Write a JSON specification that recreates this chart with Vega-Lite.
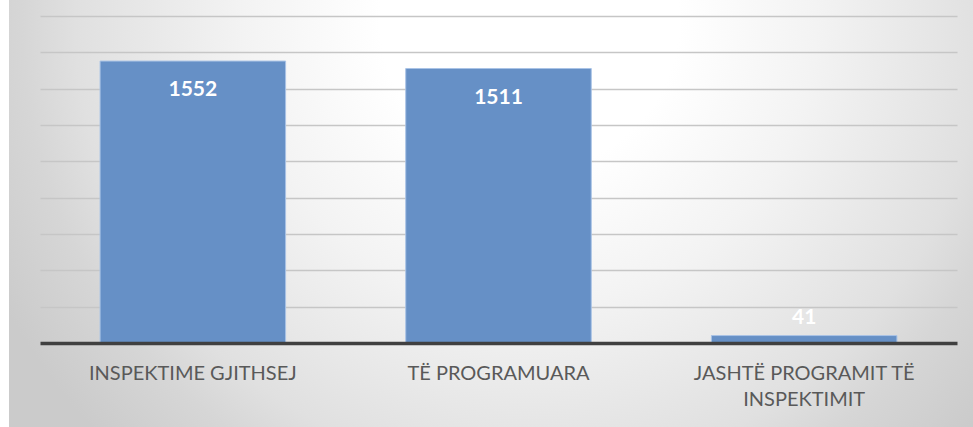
{
  "$schema": "https://vega.github.io/schema/vega-lite/v6.json",
  "width": 964,
  "height": 427,
  "autosize": {"type": "none"},
  "padding": {"left": 9, "top": 0, "right": 0, "bottom": 0},
  "background": "white",
  "view": {
    "stroke": null,
    "fill": {
      "gradient": "radial",
      "x1": 0.54, "y1": 0.3, "r1": 0,
      "x2": 0.54, "y2": 0.3, "r2": 0.62,
      "stops": [
        {"offset": 0, "color": "#ffffff"},
        {"offset": 0.25, "color": "#ffffff"},
        {"offset": 0.48, "color": "#f3f3f3"},
        {"offset": 0.76, "color": "#e0e0e0"},
        {"offset": 0.85, "color": "#d6d6d6"},
        {"offset": 1, "color": "#cbcbcb"}
      ]
    }
  },
  "config": {
    "font": "Lato"
  },
  "data": {
    "values": [
      {"category": "INSPEKTIME GJITHSEJ", "value": 1552},
      {"category": "TË PROGRAMUARA", "value": 1511},
      {"category": "JASHTË PROGRAMIT TË INSPEKTIMIT", "value": 41}
    ]
  },
  "encoding": {
    "x": {
      "field": "category",
      "type": "nominal",
      "sort": null,
      "scale": {"type": "band", "range": [31, 948], "paddingInner": 0.393, "paddingOuter": 0.1965},
      "axis": {
        "title": null,
        "orient": "bottom",
        "offset": -84,
        "zindex": 1,
        "domainColor": "#404040",
        "domainWidth": 3.5,
        "ticks": false,
        "labelAngle": 0,
        "labelFont": "Lato",
        "labelFontSize": 20,
        "labelColor": "#595959",
        "labelPadding": 20,
        "labelLineHeight": 26,
        "labelLimit": 0,
        "labelExpr": "datum.label == 'JASHTË PROGRAMIT TË INSPEKTIMIT' ? ['JASHTË PROGRAMIT TË', 'INSPEKTIMIT'] : datum.label"
      }
    },
    "y": {
      "field": "value",
      "type": "quantitative",
      "scale": {"domain": [0, 1800], "range": [343, 16], "nice": false, "zero": true},
      "axis": {
        "title": null,
        "domain": false,
        "ticks": false,
        "labels": false,
        "grid": true,
        "gridColor": "#c6c6c6",
        "gridWidth": 1.5,
        "values": [200, 400, 600, 800, 1000, 1200, 1400, 1600, 1800]
      }
    }
  },
  "layer": [
    {
      "mark": {"type": "bar", "fill": "#6690c6", "stroke": "#a9c3e6", "strokeWidth": 1}
    },
    {
      "transform": [{"filter": "datum.value > 200"}],
      "mark": {"type": "text", "color": "white", "fontWeight": "bold", "fontSize": 21, "font": "Lato", "baseline": "middle", "dy": 29},
      "encoding": {"text": {"field": "value", "type": "quantitative"}}
    },
    {
      "transform": [{"filter": "datum.value <= 200"}],
      "mark": {"type": "text", "color": "white", "fontWeight": "bold", "fontSize": 21, "font": "Lato", "baseline": "middle", "dy": -18},
      "encoding": {"text": {"field": "value", "type": "quantitative"}}
    }
  ]
}
